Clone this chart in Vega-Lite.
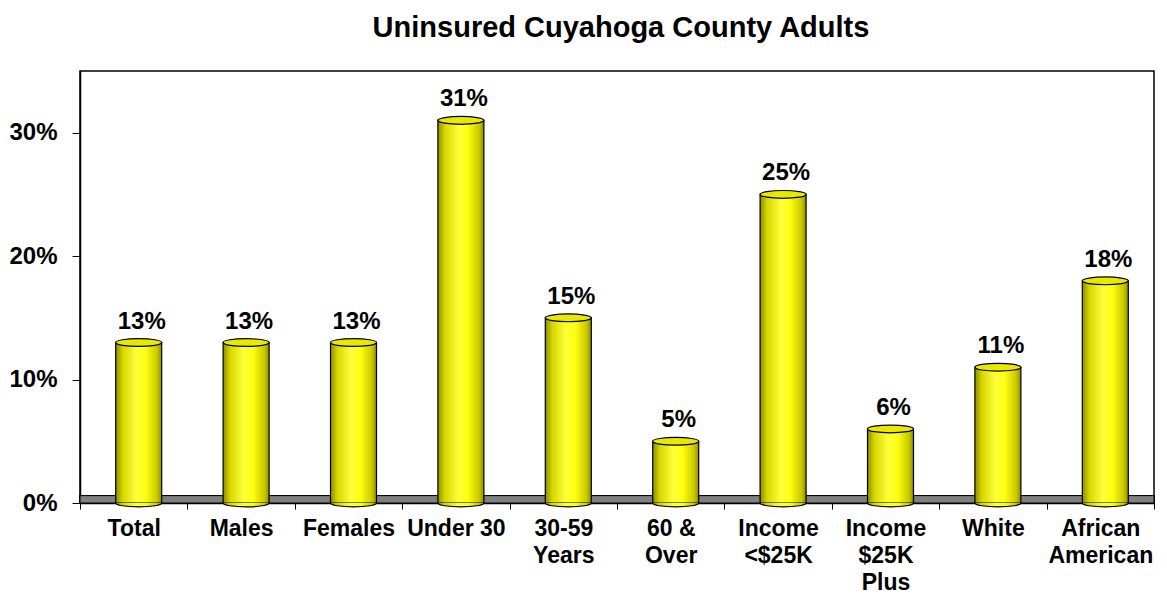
{
  "$schema": "https://vega.github.io/schema/vega-lite/v6.json",
  "width": 1074,
  "height": 432,
  "autosize": "none",
  "padding": {"left": 80, "top": 71, "right": 13, "bottom": 93},
  "background": "white",
  "title": {
    "text": "Uninsured Cuyahoga County Adults",
    "font": "Liberation Sans",
    "fontSize": 29,
    "fontWeight": "bold",
    "color": "black",
    "anchor": "middle",
    "offset": 28,
    "dx": 4
  },
  "config": {
    "font": "Liberation Sans",
    "view": {"stroke": "black", "strokeWidth": 1.5}
  },
  "data": {
    "values": [
      {"group": "Total", "pct": 0.13},
      {"group": "Males", "pct": 0.13},
      {"group": "Females", "pct": 0.13},
      {"group": "Under 30", "pct": 0.31},
      {"group": "30-59 Years", "pct": 0.15},
      {"group": "60 & Over", "pct": 0.05},
      {"group": "Income <$25K", "pct": 0.25},
      {"group": "Income $25K Plus", "pct": 0.06},
      {"group": "White", "pct": 0.11},
      {"group": "African American", "pct": 0.18}
    ]
  },
  "encoding": {
    "x": {
      "field": "group",
      "type": "nominal",
      "sort": null,
      "scale": {"paddingInner": 0, "paddingOuter": 0},
      "axis": {
        "title": null,
        "labelAngle": 0,
        "labelFontSize": 23,
        "labelFontWeight": "bold",
        "labelColor": "black",
        "labelLineHeight": 27,
        "labelPadding": 8,
        "tickBand": "extent",
        "tickSize": 6,
        "tickColor": "black",
        "domainColor": "black",
        "domainWidth": 1.5,
        "labelExpr": "!isString(datum.value) ? '' : datum.value == 'Under 30' ? datum.value : datum.value == '60 & Over' ? ['60 &', 'Over'] : split(datum.value, ' ')"
      }
    },
    "y": {
      "field": "pct",
      "type": "quantitative",
      "scale": {"domain": [0, 0.35], "nice": false},
      "axis": {
        "title": null,
        "values": [0, 0.1, 0.2, 0.3],
        "format": ".0%",
        "grid": false,
        "labelFontSize": 24,
        "labelFontWeight": "bold",
        "labelColor": "black",
        "labelPadding": 15,
        "tickSize": 8,
        "tickColor": "black",
        "domainColor": "black",
        "domainWidth": 1.5
      }
    }
  },
  "layer": [
    {
      "mark": {"type": "rect", "fill": "#808080", "stroke": "black", "strokeWidth": 1},
      "encoding": {
        "x": null,
        "y": {"datum": 0, "type": "quantitative"},
        "y2": {"datum": 0.006}
      }
    },
    {
      "mark": {
        "type": "bar",
        "size": 46,
        "xOffset": 5,
        "stroke": "black",
        "strokeWidth": 1.2,
        "color": {
          "gradient": "linear",
          "x1": 0, "x2": 1, "y1": 0, "y2": 0,
          "stops": [
            {"offset": 0, "color": "#8c8c00"},
            {"offset": 0.15, "color": "#d6d600"},
            {"offset": 0.45, "color": "#ffff3a"},
            {"offset": 0.65, "color": "#ffff10"},
            {"offset": 0.9, "color": "#c8c800"},
            {"offset": 1, "color": "#8c8c00"}
          ]
        }
      }
    },
    {
      "mark": {
        "type": "point",
        "xOffset": 5,
        "filled": true,
        "opacity": 1,
        "size": 2116,
        "shape": "M-1,0A1,0.17,0,0,0,1,0Z",
        "strokeWidth": 0,
        "color": {
          "gradient": "linear",
          "x1": 0, "x2": 1, "y1": 0, "y2": 0,
          "stops": [
            {"offset": 0, "color": "#8c8c00"},
            {"offset": 0.15, "color": "#d6d600"},
            {"offset": 0.45, "color": "#ffff3a"},
            {"offset": 0.65, "color": "#ffff10"},
            {"offset": 0.9, "color": "#c8c800"},
            {"offset": 1, "color": "#8c8c00"}
          ]
        }
      },
      "encoding": {"y": {"datum": 0, "type": "quantitative"}}
    },
    {
      "mark": {
        "type": "point",
        "xOffset": 5,
        "filled": false,
        "opacity": 1,
        "size": 2116,
        "shape": "M-1,0A1,0.17,0,0,0,1,0",
        "stroke": "black",
        "strokeWidth": 1.2
      },
      "encoding": {"y": {"datum": 0, "type": "quantitative"}}
    },
    {
      "mark": {
        "type": "point",
        "xOffset": 5,
        "filled": true,
        "opacity": 1,
        "size": 2116,
        "shape": "M-1,0A1,0.17,0,1,1,1,0A1,0.17,0,1,1,-1,0Z",
        "fill": "#e8e800",
        "stroke": "black",
        "strokeWidth": 1.2
      }
    },
    {
      "mark": {
        "type": "text",
        "xOffset": 8,
        "dy": -14,
        "baseline": "alphabetic",
        "fontSize": 24,
        "fontWeight": "bold",
        "color": "black"
      },
      "encoding": {"text": {"field": "pct", "type": "quantitative", "format": ".0%"}}
    }
  ]
}
